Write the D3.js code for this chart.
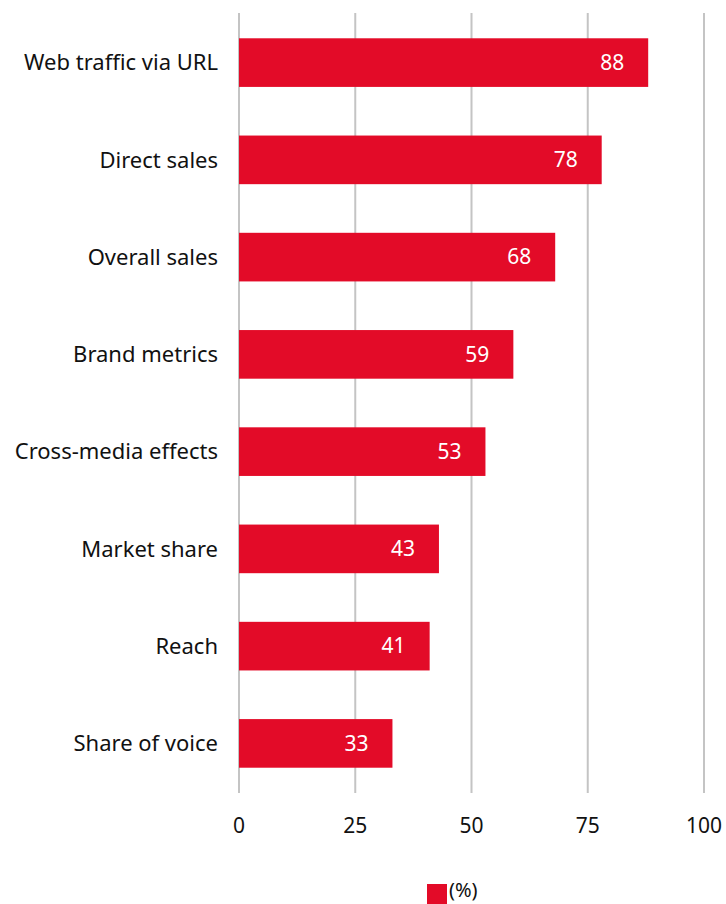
<!DOCTYPE html>
<html>
<head>
<meta charset="utf-8">
<script src="https://cdn.jsdelivr.net/npm/d3@7"></script>
<style>
    body { margin: 0; background: #fff; }
    text { font-family: "Noto Sans", "Open Sans", sans-serif; }
</style>
</head>
<body>
<div id="chart"></div>
<script>
// data
let categories = ["Web traffic via URL", "Direct sales", "Overall sales", "Brand metrics",
    "Cross-media effects", "Market share", "Reach", "Share of voice"];
let values = [88, 78, 68, 59, 53, 43, 41, 33];
let ticks = [0, 25, 50, 75, 100];
let legendLabel = "(%)";

let width = 726, height = 904;
let margin = {top: 13, right: 22, bottom: 111, left: 239};
let red = "#e30b28";

let svg = d3.select("#chart").append("svg")
    .attr("width", width)
    .attr("height", height);

let g = svg.append("g")
    .attr("transform", "translate(" + margin.left + "," + margin.top + ")");

let w = width - margin.left - margin.right;
let h = height - margin.top - margin.bottom;

let x = d3.scaleLinear().domain([0, 100]).range([0, w]);
let y = d3.scaleBand().domain(categories).range([0, h]).paddingInner(0.5).paddingOuter(0.26);

// gridlines
g.selectAll(".grid")
    .data(ticks)
    .enter().append("line")
    .attr("class", "grid")
    .attr("x1", d => x(d)).attr("x2", d => x(d))
    .attr("y1", 0).attr("y2", h)
    .attr("stroke", "#c4c4c4")
    .attr("stroke-width", 2);

// bars
g.selectAll(".bar")
    .data(values)
    .enter().append("rect")
    .attr("class", "bar")
    .attr("x", x(0))
    .attr("y", (d, i) => y(categories[i]))
    .attr("width", d => x(d) - x(0))
    .attr("height", y.bandwidth())
    .attr("fill", red);

// value labels
g.selectAll(".val")
    .data(values)
    .enter().append("text")
    .attr("class", "val")
    .attr("x", d => x(d) - 24)
    .attr("y", (d, i) => y(categories[i]) + y.bandwidth() / 2)
    .attr("dy", "0.35em")
    .attr("text-anchor", "end")
    .attr("fill", "#fff")
    .style("font-size", "21px")
    .text(d => d);

// category labels
g.selectAll(".cat")
    .data(categories)
    .enter().append("text")
    .attr("class", "cat")
    .attr("x", -21)
    .attr("y", d => y(d) + y.bandwidth() / 2)
    .attr("dy", "0.35em")
    .attr("text-anchor", "end")
    .attr("fill", "#111")
    .style("font-size", "22px")
    .text(d => d);

// x axis tick labels
g.selectAll(".tick-label")
    .data(ticks)
    .enter().append("text")
    .attr("class", "tick-label")
    .attr("x", d => x(d))
    .attr("y", h + 33)
    .attr("dy", "0.35em")
    .attr("text-anchor", "middle")
    .attr("fill", "#111")
    .style("font-size", "21px")
    .text(d => d);

// legend
let legend = svg.append("g")
    .attr("transform", "translate(427, 884)");
legend.append("rect")
    .attr("width", 20)
    .attr("height", 20)
    .attr("fill", red);
legend.append("text")
    .attr("x", 22)
    .attr("y", 6)
    .attr("dy", "0.35em")
    .attr("fill", "#111")
    .style("font-size", "20px")
    .text(legendLabel);
</script>
</body>
</html>
